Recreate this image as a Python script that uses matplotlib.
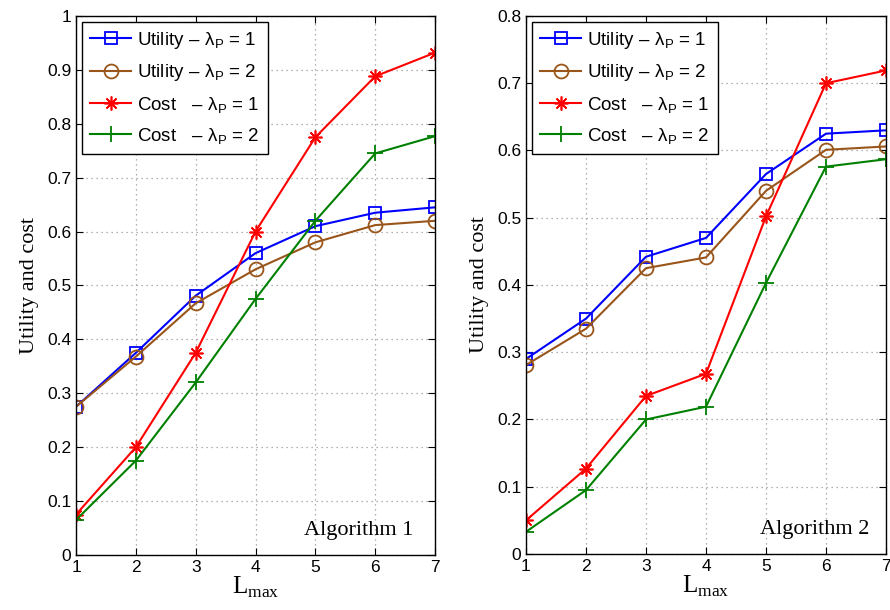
import matplotlib.pyplot as plt
import matplotlib.ticker as mticker
import numpy as np

L_max = [1, 2, 3, 4, 5, 6, 7]

# Algorithm 1
util_p1_a1 = [0.275, 0.375, 0.481, 0.560, 0.610, 0.635, 0.645]
util_p2_a1 = [0.275, 0.368, 0.467, 0.530, 0.580, 0.612, 0.620]
cost_p1_a1 = [0.075, 0.200, 0.375, 0.600, 0.775, 0.888, 0.932]
cost_p2_a1 = [0.065, 0.175, 0.320, 0.475, 0.620, 0.745, 0.777]

# Algorithm 2
util_p1_a2 = [0.290, 0.350, 0.442, 0.470, 0.565, 0.625, 0.630]
util_p2_a2 = [0.281, 0.335, 0.425, 0.441, 0.540, 0.601, 0.606]
cost_p1_a2 = [0.050, 0.127, 0.235, 0.268, 0.502, 0.700, 0.719]
cost_p2_a2 = [0.033, 0.095, 0.200, 0.219, 0.403, 0.576, 0.587]

labels = [r"Utility $\mathregular{–\ \lambda_P}$ = 1",
          r"Utility $\mathregular{–\ \lambda_P}$ = 2",
          r"Cost   $\mathregular{–\ \lambda_P}$ = 1",
          r"Cost   $\mathregular{–\ \lambda_P}$ = 2"]

plt.rcParams['font.family'] = ['Liberation Sans', 'DejaVu Sans']
plt.rcParams['mathtext.fontset'] = 'custom'
plt.rcParams['mathtext.rm'] = 'Liberation Sans'

fig = plt.figure(figsize=(8.9, 6.1), dpi=100)
ax1 = fig.add_axes([0.0854, 0.0902, 0.4034, 0.8836])
ax2 = fig.add_axes([0.591, 0.0918, 0.4045, 0.882])

styles = [dict(color="blue", marker="s", mfc="none", ms=8, mew=1.3),
          dict(color="#99551a", marker="o", mfc="none", ms=10, mew=1.3),
          dict(color="red", marker=(8, 2, 0), ms=10, mew=1.2),
          dict(color="#008000", marker="+", ms=12, mew=1.3)]

serif = ['Liberation Serif', 'DejaVu Serif']

for ax, series, ymax, alg, tx, ty in [
        (ax1, [util_p1_a1, util_p2_a1, cost_p1_a1, cost_p2_a1], 1.0, "Algorithm 1", 6.63, 0.046),
        (ax2, [util_p1_a2, util_p2_a2, cost_p1_a2, cost_p2_a2], 0.8, "Algorithm 2", 6.73, 0.036)]:
    for vals, st, lab in zip(series, styles, labels):
        ax.plot(L_max, vals, lw=1.5, label=lab, **st)
    ax.set_xlim(1, 7)
    ax.set_ylim(0, ymax)
    ax.set_xticks(L_max)
    ax.set_yticks(np.arange(0, ymax + 0.001, 0.1))
    ax.yaxis.set_major_formatter(mticker.FormatStrFormatter('%g'))
    ax.tick_params(direction="in", top=True, right=True, labelsize=12.5, length=5)
    ax.grid(True, linestyle=(0, (1, 3)), color="#999999", lw=0.9)
    for sp in ax.spines.values():
        sp.set_linewidth(1.0)
    ax.set_xlabel(r"L$_\mathregular{max}$", fontsize=18, family=serif, labelpad=0)
    ax.set_ylabel("Utility and cost", fontsize=16, family=serif, labelpad=6)
    ax.text(tx, ty, alg, fontsize=16, family=serif, ha="right", va="center")
    leg = ax.legend(loc="upper left", fontsize=13.5, fancybox=False, framealpha=1,
                    edgecolor="black", borderaxespad=0.3, handlelength=2.2,
                    handletextpad=0.3, labelspacing=0.6, borderpad=0.45)
    leg.get_frame().set_linewidth(1.0)

fig.savefig("out.png", dpi=100)
